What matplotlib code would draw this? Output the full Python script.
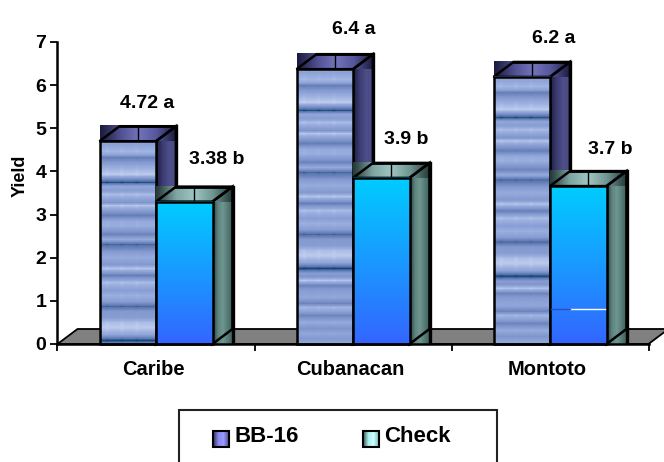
import numpy as np
import matplotlib
matplotlib.use("Agg")
import matplotlib.pyplot as plt
from matplotlib.colors import LinearSegmentedColormap
from matplotlib.patches import Polygon, Rectangle

categories = ["Caribe", "Cubanacan", "Montoto"]
series_names = ["BB-16", "Check"]
bb16_heights = [4.70, 6.37, 6.19]
check_heights = [3.30, 3.85, 3.66]
bb16_labels = ["4.72 a", "6.4 a", "6.2 a"]
check_labels = ["3.38 b", "3.9 b", "3.7 b"]
y_ticks = [0, 1, 2, 3, 4, 5, 6, 7]

# label nudges (data units) relative to each bar
bb16_dx = [0.10, 0.147, 0.16]
bb16_dy = [0.88, 0.93, 0.90]
check_dx = [0.166, 0.126, 0.164]
check_dy = [0.97, 0.90, 0.84]

W, H = 664, 462
FONT = "Liberation Sans"
fig = plt.figure(figsize=(W / 100, H / 100), dpi=100)
ax = fig.add_axes([57.5 / W, 1 - 344 / H, 591 / W, 302 / H])
ax.set_xlim(0, 3)
ax.set_ylim(0, 7)
ax.patch.set_visible(False)
for s in ["top", "right"]:
    ax.spines[s].set_visible(False)
for s in ["left", "bottom"]:
    ax.spines[s].set_linewidth(1.8)
    ax.spines[s].set_zorder(20)
ax.set_xticks([0, 1, 2, 3])
ax.set_xticklabels([])
ax.set_yticks(y_ticks)
ax.set_yticklabels([str(v) for v in y_ticks], fontsize=14, fontweight="bold", family=FONT)
ax.tick_params(axis="both", width=1.3, length=5, pad=3)
ax.text(20.5 / W, 1 - 175.5 / H, "Yield", rotation=90, ha="center", va="center", fontsize=13,
        fontweight="bold", family=FONT, transform=fig.transFigure)

DX = 20 / 197
DY = 15 / 43.14
BAR_W = 56.5 / 197
BAR_START = 42 / 197

# stripe texture of the BB-16 fill: offset in pixels below the bar top, brightness
tex_offsets = [0, 3, 6, 10, 13, 16, 21, 25, 33, 37, 41, 45, 49, 53, 61, 64, 69, 74, 80, 84, 93,
               98, 103, 111, 116, 123, 127, 134, 141, 149, 154, 160, 165, 170, 176, 181, 186, 193,
               199, 204, 207, 211, 216, 221, 228, 234, 238, 242, 246, 253, 259, 264, 269, 274]
tex_levels = [.7, .65, .75, .85, .7, .3, .55, .75, 1, .5, .05, .7, .6, .9, .5, .95, .6, .3, .75, .8,
              .35, .75, .15, .6, .75, .55, .95, .3, .9, .6, .8, .6, .15, .55, .6, .9, 1, .7,
              .0, .6, .5, .95, .35, .6, .7, .35, .85, .65, .35, .75, .5, .7, .55, .7]
col_marks = [0.12, 0.38, 0.65]

tex_cmap = LinearSegmentedColormap.from_list(
    "t", [(0, "#12477f"), (.2, "#5a76ad"), (.5, "#7f95cc"), (.8, "#9aaedf"), (1, "#bccbec")])
blue_cmap = LinearSegmentedColormap.from_list("b", ["#3366ff", "#00ccff"])
navy_top = LinearSegmentedColormap.from_list("n", ["#1c1c40", "#4e4e90", "#7474bc", "#55559a", "#1c1c40"])
navy_side = LinearSegmentedColormap.from_list("ns", ["#1e1e42", "#3c3c72", "#4e4e8a", "#4a4a84"])
teal_top = LinearSegmentedColormap.from_list("tt", ["#263c3a", "#7fa5a2", "#a0c6c2", "#6f9592", "#263c3a"])
teal_side = LinearSegmentedColormap.from_list("ts", ["#2c4442", "#5f8581", "#6f9591", "#557b77", "#405e5b"])


def image(x0, x1, y0, y1, data, cmap, z):
    ax.imshow(data, cmap=cmap, vmin=0, vmax=1, aspect="auto", origin="lower",
              extent=(x0, x1, y0, y1), interpolation="bilinear", zorder=z)


def outline(pts, z, lw=1.8):
    ax.add_patch(Polygon(pts, closed=True, facecolor="none", edgecolor="black", lw=lw,
                         zorder=z, clip_on=False))


def bar3d(x0, h, front, front_cmap, side_cmap, top_cmap, z):
    x1 = x0 + BAR_W
    grad = np.linspace(0, 1, 32)[None, :]
    image(x1, x1 + DX, 0, h + DY, grad, side_cmap, z)
    image(x0, x1 + DX, h, h + DY, grad, top_cmap, z + 0.1)
    ax.plot([x0 + BAR_W / 2 + DX / 2] * 2, [h + 0.01, h + DY], color="black", lw=1, zorder=z + 0.2)
    outline([(x1, 0), (x1 + DX, DY), (x1 + DX, h + DY), (x1, h)], z + 0.2)
    outline([(x0, h), (x1, h), (x1 + DX, h + DY), (x0 + DX, h + DY)], z + 0.2)
    ax.plot([x1 + DX, x1 + DX], [0, h + DY], color="black", lw=2.4, zorder=z + 0.2)
    ax.plot([x0 + DX, x1 + DX], [h + DY, h + DY], color="black", lw=2, zorder=z + 0.2)
    image(x0, x1, 0, h, front, front_cmap, z + 0.3)
    outline([(x0, 0), (x1, 0), (x1, h), (x0, h)], z + 0.4)


# floor
floor = [(0, 0), (DX, DY), (3 + DX, DY), (3, 0)]
ax.add_patch(Polygon(floor, closed=True, facecolor="#808080", edgecolor="black", lw=1.3,
                     zorder=1, clip_on=False))

col_x = np.linspace(0, 1, 57)
col_gain = 1 + 0.12 * sum(np.exp(-((col_x - c) / 0.03) ** 2) for c in col_marks)
for i, cat in enumerate(categories):
    x0 = i + BAR_START
    h1, h2 = bb16_heights[i], check_heights[i]
    n = int(round(h1 * 43.14))
    rows = np.interp(np.arange(n)[::-1], tex_offsets, tex_levels)
    front = np.clip(0.5 + (rows[:, None] - 0.5) * col_gain[None, :], 0, 1)
    bar3d(x0, h1, front, tex_cmap, navy_side, navy_top, 3)
    grad = np.linspace(0, 1, 64)[:, None]
    bar3d(x0 + BAR_W, h2, grad, blue_cmap, teal_side, teal_top, 5)
    ax.text(x0 + BAR_W / 2 + bb16_dx[i], h1 + bb16_dy[i], bb16_labels[i], ha="center", va="center",
            fontsize=14, fontweight="bold", family=FONT, zorder=10)
    ax.text(x0 + BAR_W * 1.5 + check_dx[i], h2 + check_dy[i], check_labels[i], ha="center", va="center",
            fontsize=14, fontweight="bold", family=FONT, zorder=10)
    ax.text(i + 0.485, -0.6, cat, ha="center", va="center",
            fontsize=14.5, fontweight="bold", family=FONT)

# small white glitch line in the last Check bar
ax.plot([2 + BAR_START + BAR_W * 1.35, 2 + BAR_START + BAR_W * 1.98], [0.8, 0.8],
        color="white", lw=1, zorder=9)
ax.plot([2 + BAR_START + BAR_W * 1.02, 2 + BAR_START + BAR_W * 1.35], [0.8, 0.8],
        color="#2a4fc0", lw=1, zorder=9)

# legend box (runs off the bottom of the figure)
lax = fig.add_axes([0, 0, 1, 1])
lax.axis("off")
lax.add_patch(Rectangle((179, 409.5), 318, 70, facecolor="white", edgecolor="#222222", lw=1.5))
lcm = [LinearSegmentedColormap.from_list("a", ["#333366", "#8888ee", "#9999ff", "#555599"]),
       LinearSegmentedColormap.from_list("c", ["#406060", "#aaeeee", "#ccffff", "#88bbbb"])]
for sx, name, cm in zip([213, 363], series_names, lcm):
    lax.imshow(np.linspace(0, 1, 16)[None, :], cmap=cm, aspect="auto",
               extent=(sx, sx + 16, 447, 431), zorder=3)
    lax.add_patch(Rectangle((sx, 431), 16, 16, facecolor="none", edgecolor="black", lw=1.5, zorder=4))
    lax.text(sx + 21, 436, name, ha="left", va="center", fontsize=16, fontweight="bold", family=FONT)
lax.set_xlim(0, W)
lax.set_ylim(H, 0)

fig.savefig("out.png", dpi=100)
